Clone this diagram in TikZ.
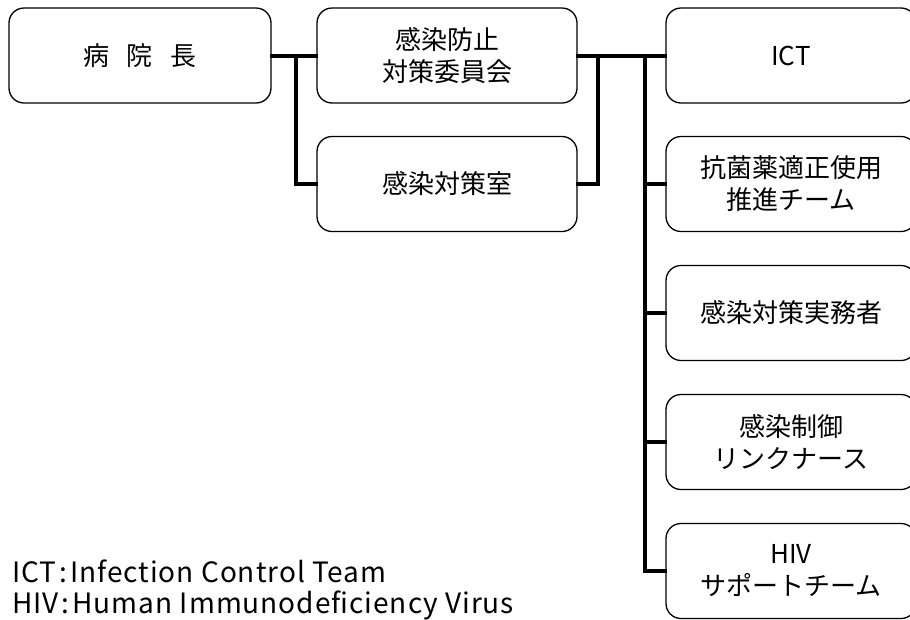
\documentclass[tikz,border=0pt]{standalone}
\usepackage{fontspec}
\setmainfont{Noto Sans CJK JP}
\newfontfamily\notefont[LetterSpace=3.5]{Noto Sans CJK JP}
\begin{document}
\begin{tikzpicture}[x=1pt,y=-1pt,
  box/.style={draw, line width=1.3pt, rounded corners=15pt, minimum width=#1,
    minimum height=95pt, align=center, inner sep=0pt,
    font=\fontsize{26}{32}\selectfont},
  box/.default=260pt,
  conn/.style={line width=4pt, line cap=rect},
  note/.style={anchor=west, inner sep=0pt, font=\notefont\fontsize{28}{33}\selectfont}]
\clip (0,0) rectangle (910,619);
\fill[white] (0,0) rectangle (910,619);
% left column
\node[box=262pt] (a) at (140,55.5) {病\hspace{18pt}院\hspace{18pt}長};
\node[box] (b) at (447,55.5) {感染防止\\対策委員会};
\node[box] (c) at (447,184) {感染対策室};
% right column
\node[box=250pt] (r1) at (791,55.5) {ICT};
\node[box=250pt] (r2) at (791,184) {抗菌薬適正使用\\推進チーム};
\node[box=250pt] (r3) at (791,313) {感染対策実務者};
\node[box=250pt] (r4) at (791,442) {感染制御\\リンクナース};
\node[box=250pt] (r5) at (791,571) {HIV\\サポートチーム};
% junction coordinates
\coordinate (j1) at (296,0);
\coordinate (j2) at (598,0);
\coordinate (j3) at (645,0);
% connectors
\draw[conn] (a.east) -- (b.west);
\draw[conn] (j1 |- a.east) |- (c.west);
\draw[conn] (b.east) -- (r1.west);
\draw[conn] (j2 |- b.east) |- (c.east);
\draw[conn] (j3 |- r1.west) |- (r5.west);
\draw[conn] (j3 |- r2.west) -- (r2.west);
\draw[conn] (j3 |- r3.west) -- (r3.west);
\draw[conn] (j3 |- r4.west) -- (r4.west);
% notes
\node[note] (n1) at (12,571) {ICT\hspace{3pt}:\hspace{3pt}Infection Control Team};
\node[note] (n2) at (12,605) {HIV\hspace{3pt}:\hspace{3pt}Human Immunodeficiency Virus};
\end{tikzpicture}
\end{document}
